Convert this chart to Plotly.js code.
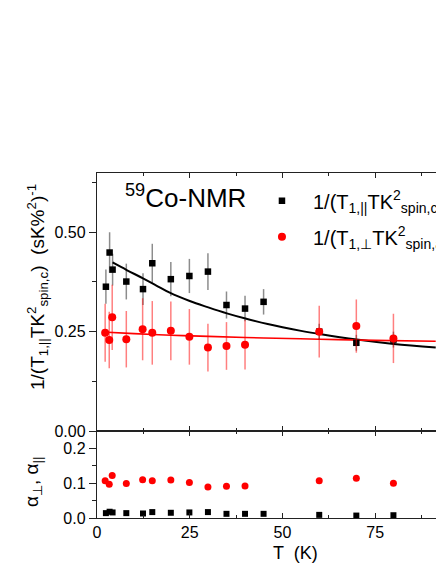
<!DOCTYPE html>
<html>
<head>
<meta charset="utf-8">
<script src="https://cdn.plot.ly/plotly-3.0.1.min.js"></script>
<style>
html,body{margin:0;padding:0;overflow:hidden;background:#fff;}
#chart{width:500px;height:564px;}
</style>
</head>
<body>
<div id="chart"></div>
<script>
// ---- data ----
var T_par = [2.4, 3.4, 4.2, 7.9, 12.4, 14.9, 19.9, 24.9, 29.9, 34.9, 39.9, 44.9, 59.9, 69.9, 79.9];
var rate_par = [0.363, 0.449, 0.406, 0.376, 0.357, 0.422, 0.382, 0.390, 0.401, 0.317, 0.308, 0.325, 0.250, 0.222, 0.230];
var err_par = [0.043, 0.051, 0.040, 0.045, 0.040, 0.049, 0.043, 0.043, 0.046, 0.034, 0.032, 0.032, 0.020, 0.020, 0.020];
var alpha_par = [0.014, 0.018, 0.016, 0.014, 0.013, 0.017, 0.015, 0.016, 0.017, 0.012, 0.012, 0.012, 0.009, 0.007, 0.008];

var T_perp = [2.2, 3.3, 4.1, 7.9, 12.3, 14.9, 19.9, 24.9, 29.9, 34.9, 39.9, 59.9, 69.9, 79.9];
var rate_perp = [0.247, 0.229, 0.286, 0.231, 0.256, 0.247, 0.252, 0.237, 0.210, 0.214, 0.217, 0.250, 0.264, 0.233];
var err_perp = [0.073, 0.071, 0.082, 0.071, 0.078, 0.080, 0.074, 0.070, 0.060, 0.060, 0.062, 0.065, 0.067, 0.062];
var alpha_perp = [0.107, 0.097, 0.122, 0.099, 0.110, 0.107, 0.109, 0.102, 0.089, 0.091, 0.092, 0.107, 0.114, 0.100];

var T_fit_par = [4.2, 8, 12.4, 16, 19.6, 25, 30, 35, 40, 46, 55, 60, 70, 80, 91.3];
var fit_par = [0.424, 0.405, 0.384, 0.366, 0.348, 0.327, 0.311, 0.296, 0.283, 0.269, 0.252, 0.244, 0.230, 0.219, 0.210];
var T_fit_perp = [1.5, 10, 20, 30, 45, 60, 75, 91.3];
var fit_perp = [0.249, 0.245, 0.241, 0.238, 0.234, 0.231, 0.228, 0.226];

var xTicks = [0, 25, 50, 75];
var xTickText = ['0', '25', '50', '75'];

var FONT = 'Liberation Sans, Arial, sans-serif';

var traces = [
  {x: T_fit_par, y: fit_par, mode: 'lines', line: {color: '#000', width: 2, shape: 'spline', smoothing: 1},
   xaxis: 'x', yaxis: 'y', showlegend: false, hoverinfo: 'skip'},
  {x: T_fit_perp, y: fit_perp, mode: 'lines', line: {color: '#ff0000', width: 1.6, shape: 'spline'},
   xaxis: 'x', yaxis: 'y', showlegend: false, hoverinfo: 'skip'},
  {x: T_par, y: rate_par, mode: 'markers', name: '1/(T<sub>1,||</sub>TK<sup>2</sup><sub>spin,c</sub>)',
   marker: {symbol: 'square', size: 6.5, color: '#000'},
   error_y: {type: 'data', array: err_par, visible: true, color: 'rgba(0,0,0,0.45)', thickness: 1.5, width: 0},
   xaxis: 'x', yaxis: 'y', legendgroup: 'a'},
  {x: T_perp, y: rate_perp, mode: 'markers', name: '1/(T<sub>1,⊥</sub>TK<sup>2</sup><sub>spin,ab</sub>)',
   marker: {symbol: 'circle', size: 8, color: '#ff0000'},
   error_y: {type: 'data', array: err_perp, visible: true, color: 'rgba(255,0,0,0.5)', thickness: 1.5, width: 0},
   xaxis: 'x', yaxis: 'y', legendgroup: 'b'},
  {x: T_perp, y: alpha_perp, mode: 'markers', marker: {symbol: 'circle', size: 7, color: '#ff0000'},
   xaxis: 'x2', yaxis: 'y2', showlegend: false},
  {x: T_par, y: alpha_par, mode: 'markers', marker: {symbol: 'square', size: 6, color: '#000'},
   xaxis: 'x2', yaxis: 'y2', showlegend: false}
];

var axLine = {showline: true, linecolor: '#222', linewidth: 1.2, zeroline: false, showgrid: false};

var layout = {
  width: 500, height: 564,
  margin: {l: 97, r: 32, t: 173, b: 46},
  paper_bgcolor: '#fff', plot_bgcolor: '#fff',
  font: {family: FONT, size: 16, color: '#000'},
  showlegend: true,
  legend: {x: 0.415, y: 0.976, xanchor: 'left', yanchor: 'top', bgcolor: 'rgba(0,0,0,0)',
    font: {family: FONT, size: 20, color: '#000'}, itemwidth: 52, tracegroupgap: 7, traceorder: 'grouped'},
  xaxis: Object.assign({}, axLine, {domain: [0, 1], range: [0, 100], anchor: 'y', ticks: 'inside', ticklen: 5, tickcolor: '#222',
    tickvals: xTicks, showticklabels: false, mirror: 'allticks',
    minor: {dtick: 12.5, tick0: 0, ticks: 'inside', ticklen: 3, tickcolor: '#222'}}),
  yaxis: Object.assign({}, axLine, {domain: [0.252, 1], range: [0, 0.649], anchor: 'x', ticks: 'outside', ticklen: 7, tickcolor: '#222',
    dtick: 0.25, tick0: 0, tickformat: '.2f', mirror: true, tickfont: {size: 16},
    minor: {dtick: 0.125, tick0: 0, ticks: 'outside', ticklen: 4, tickcolor: '#222'}}),
  xaxis2: Object.assign({}, axLine, {domain: [0, 1], range: [0, 100], anchor: 'y2', matches: 'x', ticks: 'inside', ticklen: 5, tickcolor: '#222',
    tickvals: xTicks, ticktext: xTickText, mirror: 'allticks', tickfont: {size: 16},
    minor: {dtick: 12.5, tick0: 0, ticks: 'inside', ticklen: 3, tickcolor: '#222'}}),
  yaxis2: Object.assign({}, axLine, {domain: [0, 0.252], range: [0, 0.25], anchor: 'x2', ticks: 'outside', ticklen: 7, tickcolor: '#222',
    dtick: 0.1, tick0: 0, tickformat: '.1f', mirror: true, tickfont: {size: 16},
    minor: {dtick: 0.05, tick0: 0, ticks: 'outside', ticklen: 4, tickcolor: '#222'}}),
  annotations: [
    {xref: 'paper', yref: 'paper', x: (123 - 97) / 371, y: (518 - 196) / 345, xanchor: 'left', yanchor: 'middle',
     text: '<sup>59</sup>Co-NMR', showarrow: false, font: {family: FONT, size: 26, color: '#000'}},
    {xref: 'paper', yref: 'paper', x: (37 - 97) / 371, y: (518 - 287) / 345, xanchor: 'center', yanchor: 'middle', textangle: -90,
     text: '1/(T<sub>1,||</sub>TK<sup>2</sup><sub>spin,c</sub>)  (sK%<sup>2</sup>)<sup>-1</sup>', showarrow: false,
     font: {family: FONT, size: 19, color: '#000'}},
    {xref: 'paper', yref: 'paper', x: (33 - 97) / 371, y: (518 - 482) / 345, xanchor: 'center', yanchor: 'middle', textangle: -90,
     text: 'α<sub>⊥</sub>, α<sub>||</sub>', showarrow: false, font: {family: FONT, size: 19, color: '#000'}},
    {xref: 'paper', yref: 'paper', x: (295 - 97) / 371, y: (518 - 553) / 345, xanchor: 'center', yanchor: 'middle',
     text: 'T  (K)', showarrow: false, font: {family: FONT, size: 18, color: '#000'}}
  ]
};

Plotly.newPlot('chart', traces, layout, {displayModeBar: false, staticPlot: true});
</script>
</body>
</html>
